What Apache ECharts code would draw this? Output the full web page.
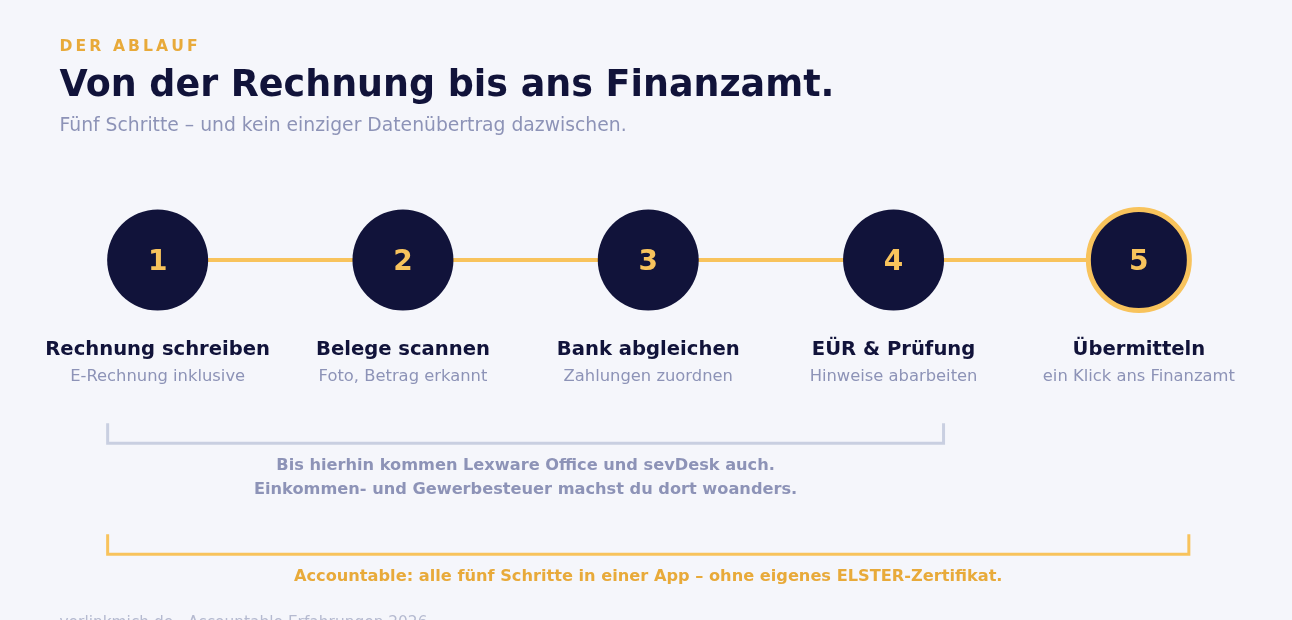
<!DOCTYPE html>
<html>
<head>
<meta charset="utf-8">
<title>Der Ablauf</title>
<style>
  html, body { margin: 0; padding: 0; background: #f5f6fb; overflow: hidden; }
  #chart { width: 1292px; height: 620px; }
</style>
</head>
<body>
<div id="chart"></div>
<script src="https://cdn.jsdelivr.net/npm/echarts@6/dist/echarts.min.js"></script>
<script>
const kicker = 'DER ABLAUF';
const headline = 'Von der Rechnung bis ans Finanzamt.';
const subline = 'Fünf Schritte – und kein einziger Datenübertrag dazwischen.';
const footer = 'verlinkmich.de · Accountable Erfahrungen 2026';

const stepNumbers = ['1', '2', '3', '4', '5'];
const stepTitles = ['Rechnung schreiben', 'Belege scannen', 'Bank abgleichen', 'EÜR & Prüfung', 'Übermitteln'];
const stepNotes = ['E-Rechnung inklusive', 'Foto, Betrag erkannt', 'Zahlungen zuordnen', 'Hinweise abarbeiten', 'ein Klick ans Finanzamt'];

// which steps each bracket spans (index into the steps)
const bracketStart = [0, 0];
const bracketEnd = [3, 4];
const bracketTexts = [
  'Bis hierhin kommen Lexware Office und sevDesk auch.\nEinkommen- und Gewerbesteuer machst du dort woanders.',
  'Accountable: alle fünf Schritte in einer App – ohne eigenes ELSTER-Zertifikat.'
];

const NAVY = '#11133a';
const GOLD = '#f8c35c';
const AMBER = '#e8aa3a';
const GREY = '#8d93b7';
const FONT = '"DejaVu Sans", sans-serif';

const TRACK_Y = 260;
const RADIUS = 50;
const bracketLayout = [
  { top: 423.3, bottom: 443.2, text: 466, color: '#c9cfe1', textColor: GREY },
  { top: 534.3, bottom: 554.2, text: 577, color: GOLD, textColor: AMBER }
];

const chart = echarts.init(document.getElementById('chart'));

function headerText(x, y, text, size, weight, color) {
  return {
    type: 'text',
    x: x,
    y: y,
    silent: true,
    style: { text: text, fill: color, font: weight + ' ' + size + 'px ' + FONT, textVerticalAlign: 'middle' }
  };
}

function renderBracket(params, api) {
  const i = params.dataIndex;
  const layout = bracketLayout[i];
  const x0 = api.coord([api.value(0), 0])[0] - RADIUS;
  const x1 = api.coord([api.value(1), 0])[0] + RADIUS;
  const yTop = api.coord([0, layout.top])[1];
  const yBottom = api.coord([0, layout.bottom])[1];
  const yText = api.coord([0, layout.text])[1];
  return {
    type: 'group',
    children: [
      {
        type: 'polyline',
        shape: { points: [[x0, yTop], [x0, yBottom], [x1, yBottom], [x1, yTop]] },
        style: { stroke: layout.color, lineWidth: 3, fill: null, lineJoin: 'miter' }
      },
      {
        type: 'text',
        x: (x0 + x1) / 2,
        y: yText - 12,
        style: {
          text: bracketTexts[i],
          fill: layout.textColor,
          font: 'bold 16.2px ' + FONT,
          lineHeight: 24,
          align: 'center',
          verticalAlign: 'top'
        }
      }
    ]
  };
}

chart.setOption({
  backgroundColor: '#f5f6fb',
  animation: false,
  textStyle: { fontFamily: FONT },
  grid: { left: 35, width: 1226.5, top: 0, height: 620 },
  xAxis: {
    type: 'category',
    data: stepTitles,
    position: 'bottom',
    offset: -291.5,
    axisLine: { show: false },
    axisTick: { show: false },
    axisLabel: {
      interval: 0,
      hideOverlap: false,
      formatter: function (value, index) {
        return '{title|' + value + '}\n{note|' + stepNotes[index] + '}';
      },
      rich: {
        title: { fontFamily: FONT, fontSize: 19.6, fontWeight: 'bold', color: NAVY, lineHeight: 27, align: 'center' },
        note: { fontFamily: FONT, fontSize: 16.35, color: GREY, lineHeight: 27, align: 'center' }
      }
    }
  },
  yAxis: { type: 'value', min: 0, max: 620, inverse: true, show: false },
  graphic: [
    {
      type: 'text',
      x: 59.5,
      y: 46.5,
      silent: true,
      style: {
        text: kicker.split('').map(function (c) { return '{k|' + c + '}'; }).join(''),
        verticalAlign: 'middle',
        rich: { k: { fill: AMBER, font: 'bold 15.6px ' + FONT, padding: [0, 3.1, 0, 0] } }
      }
    },
    headerText(59.5, 87, headline, 36.45, 'bold', NAVY),
    headerText(59.5, 126, subline, 18.75, 'normal', GREY),
    headerText(59.5, 623, footer, 15.4, 'normal', '#b5bad0')
  ],
  series: [
    {
      type: 'line',
      silent: true,
      symbol: 'none',
      z: 1,
      lineStyle: { color: GOLD, width: 4 },
      data: stepTitles.map(function (s) { return [s, TRACK_Y]; })
    },
    {
      type: 'scatter',
      silent: true,
      z: 2,
      symbolSize: RADIUS * 2 + 1,
      data: stepTitles.map(function (s, i) {
        const last = i === stepTitles.length - 1;
        return {
          value: [s, TRACK_Y],
          itemStyle: last ? { color: NAVY, borderColor: GOLD, borderWidth: 5 } : { color: NAVY }
        };
      }),
      itemStyle: { opacity: 1 },
      label: {
        show: true,
        position: 'inside',
        offset: [0, 3],
        formatter: function (p) { return stepNumbers[p.dataIndex]; },
        fontFamily: FONT,
        fontSize: 28,
        fontWeight: 'bold',
        color: GOLD
      }
    },
    {
      type: 'custom',
      silent: true,
      z: 3,
      clip: false,
      renderItem: renderBracket,
      data: bracketStart.map(function (s, i) { return [s, bracketEnd[i]]; }),
      encode: { x: [0, 1] }
    }
  ]
});
</script>
</body>
</html>
